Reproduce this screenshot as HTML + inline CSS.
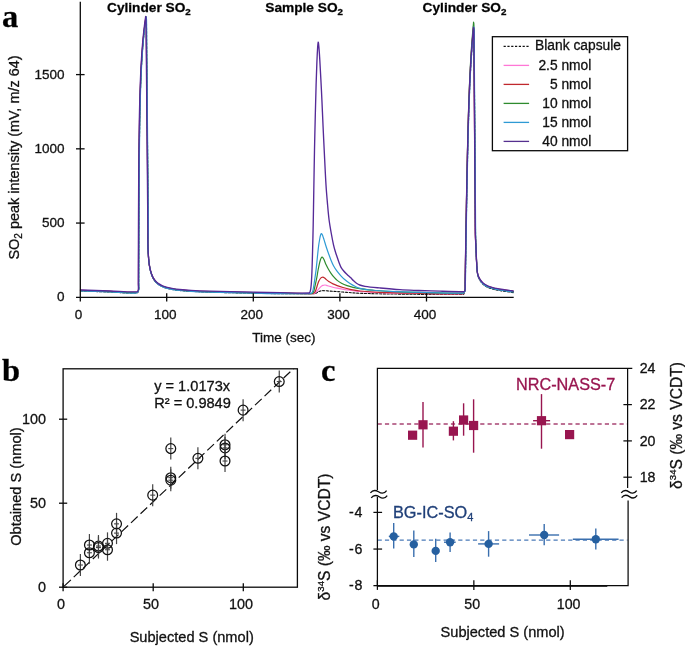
<!DOCTYPE html>
<html><head><meta charset="utf-8"><style>
html,body{margin:0;padding:0;background:#fff;width:685px;height:646px;overflow:hidden;}
body{position:relative;font-family:"Liberation Sans", sans-serif;}
svg{will-change:transform;}
svg text{stroke:#111;stroke-width:0.3px;}
</style></head><body>
<svg width="685" height="646" viewBox="0 0 685 646" style="position:absolute;left:0;top:0">
<text x="2" y="26.6" font-family='"Liberation Serif", serif' font-weight="bold" font-size="32.5">a</text>
<text x="107" y="12.1" font-family='"Liberation Sans", sans-serif' font-weight="bold" font-size="13.7">Cylinder SO<tspan font-size="9.8" dy="3.2">2</tspan></text>
<text x="265.3" y="12.1" font-family='"Liberation Sans", sans-serif' font-weight="bold" font-size="13.7">Sample SO<tspan font-size="9.8" dy="3.2">2</tspan></text>
<text x="422.6" y="12.1" font-family='"Liberation Sans", sans-serif' font-weight="bold" font-size="13.7">Cylinder SO<tspan font-size="9.8" dy="3.2">2</tspan></text>
<g fill="none" stroke-linejoin="round" stroke-linecap="round">
<path d="M80.50,291.00 C90.33,291.33 100.17,291.67 110.00,292.00 C119.00,292.30 128.50,293.49 137.00,292.90 C138.05,292.83 138.47,291.06 138.67,290.00 C139.04,288.10 138.68,286.00 138.69,284.00 C138.70,282.00 138.70,280.00 138.71,278.00 C138.71,276.00 138.72,274.00 138.73,272.00 C138.73,270.00 138.74,268.00 138.74,266.00 C138.75,264.00 138.76,262.00 138.76,260.00 C138.77,258.00 138.77,256.00 138.78,254.00 C138.79,252.00 138.79,250.00 138.80,248.00 C138.81,246.00 138.81,244.00 138.82,242.00 C138.83,240.00 138.83,238.00 138.84,236.00 C138.85,234.00 138.86,232.00 138.86,230.00 C138.87,228.00 138.88,226.00 138.89,224.00 C138.90,222.00 138.90,220.00 138.91,218.00 C138.92,216.00 138.93,214.00 138.94,212.00 C138.95,210.00 138.96,208.00 138.96,206.00 C138.97,204.00 138.98,202.00 138.99,200.00 C139.00,198.00 139.01,196.00 139.03,194.00 C139.04,192.00 139.05,190.00 139.06,188.00 C139.07,186.00 139.08,184.00 139.10,182.00 C139.11,180.00 139.12,178.00 139.14,176.00 C139.15,174.00 139.16,172.00 139.18,170.00 C139.19,168.00 139.21,166.00 139.23,164.00 C139.24,162.00 139.26,160.00 139.28,158.00 C139.30,156.00 139.31,154.00 139.33,152.00 C139.35,150.00 139.38,148.00 139.40,146.00 C139.42,144.00 139.44,142.00 139.47,140.00 C139.49,138.00 139.52,136.00 139.55,134.00 C139.57,132.00 139.60,130.00 139.63,128.00 C139.66,126.00 139.70,124.00 139.73,122.00 C139.77,120.00 139.80,118.00 139.84,116.00 C139.88,114.00 139.92,112.00 139.96,110.00 C140.01,108.00 140.05,106.00 140.10,104.00 C140.15,102.00 140.20,100.00 140.26,98.00 C140.31,96.00 140.37,94.00 140.43,92.00 C140.50,90.00 140.56,88.00 140.63,86.00 C140.70,84.00 140.78,82.00 140.86,80.00 C140.94,78.00 141.02,76.00 141.11,74.00 C141.21,72.00 141.30,70.00 141.40,68.00 C141.51,66.00 141.62,64.00 141.73,62.00 C141.85,60.00 141.97,58.00 142.11,56.00 C142.24,54.00 142.38,52.00 142.53,50.00 C142.69,48.00 142.85,46.00 143.02,44.00 C143.19,42.00 143.37,40.00 143.57,38.00 C143.77,36.00 143.97,34.00 144.20,32.00 C144.42,30.00 144.66,28.00 144.91,26.00 C145.17,24.00 145.57,21.20 145.73,20.00 C145.77,19.70 145.50,21.62 145.51,21.50 C145.54,21.29 145.75,19.83 145.87,19.00 C145.95,18.50 146.04,17.33 146.10,17.50 C146.22,17.83 146.40,19.49 146.43,20.50 C146.57,26.99 146.54,33.50 146.60,40.00 C146.72,53.33 146.83,66.67 146.95,80.00 C147.07,93.33 147.18,106.67 147.30,120.00 C147.42,133.33 147.54,146.67 147.65,160.00 C147.77,173.33 147.89,186.67 148.01,200.00 C148.09,210.00 148.29,220.00 148.27,230.00 C148.26,234.33 147.89,238.67 147.90,243.00 C147.90,246.67 148.09,250.34 148.30,254.00 C148.46,256.84 148.67,259.69 149.00,262.52 C149.24,264.61 149.58,266.70 150.00,268.76 C150.34,270.44 150.77,272.12 151.30,273.75 C151.77,275.20 152.31,276.66 153.00,278.02 C153.64,279.26 154.39,280.49 155.30,281.55 C156.23,282.64 157.34,283.62 158.50,284.46 C159.74,285.36 161.11,286.12 162.50,286.75 C164.01,287.43 165.60,287.97 167.20,288.40 C169.10,288.92 171.05,289.27 173.00,289.60 C175.15,289.97 177.32,290.28 179.50,290.50 C183.32,290.88 187.16,291.19 191.00,291.40 C197.33,291.75 203.66,291.99 210.00,292.20 C216.66,292.42 223.33,292.55 230.00,292.70 C237.80,292.88 245.60,293.04 253.40,293.20 C262.27,293.38 271.13,293.64 280.00,293.70 C289.67,293.77 299.33,293.63 309.00,293.60 C311.00,293.59 313.06,293.84 315.00,293.60 C315.72,293.51 316.34,292.95 317.00,292.60 C317.67,292.25 318.31,291.81 319.00,291.50 C319.57,291.24 320.19,291.07 320.80,290.90 C321.29,290.77 321.79,290.62 322.30,290.60 C323.19,290.56 324.10,290.64 325.00,290.70 C326.67,290.81 328.33,290.98 330.00,291.10 C332.40,291.28 334.80,291.42 337.20,291.60 C340.47,291.85 343.73,292.16 347.00,292.40 C351.33,292.72 355.66,293.16 360.00,293.30 C373.33,293.73 386.67,293.96 400.00,294.10 C421.17,294.32 442.60,294.76 463.50,294.40 C464.03,294.39 464.10,293.50 464.30,293.00 C464.68,292.03 465.12,291.03 465.24,290.00 C465.46,288.03 465.30,286.00 465.33,284.00 C465.36,282.00 465.40,280.00 465.43,278.00 C465.46,276.00 465.49,274.00 465.52,272.00 C465.55,270.00 465.59,268.00 465.62,266.00 C465.65,264.00 465.68,262.00 465.71,260.00 C465.75,258.00 465.78,256.00 465.81,254.00 C465.84,252.00 465.87,250.00 465.91,248.00 C465.94,246.00 465.97,244.00 466.01,242.00 C466.04,240.00 466.07,238.00 466.11,236.00 C466.14,234.00 466.17,232.00 466.21,230.00 C466.24,228.00 466.27,226.00 466.31,224.00 C466.34,222.00 466.38,220.00 466.41,218.00 C466.45,216.00 466.48,214.00 466.52,212.00 C466.55,210.00 466.59,208.00 466.62,206.00 C466.66,204.00 466.70,202.00 466.73,200.00 C466.77,198.00 466.81,196.00 466.85,194.00 C466.88,192.00 466.92,190.00 466.96,188.00 C467.00,186.00 467.04,184.00 467.08,182.00 C467.12,180.00 467.16,178.00 467.20,176.00 C467.24,174.00 467.28,172.00 467.32,170.00 C467.36,168.00 467.41,166.00 467.45,164.00 C467.49,162.00 467.54,160.00 467.58,158.00 C467.63,156.00 467.67,154.00 467.72,152.00 C467.77,150.00 467.82,148.00 467.86,146.00 C467.91,144.00 467.96,142.00 468.01,140.00 C468.07,138.00 468.12,136.00 468.17,134.00 C468.23,132.00 468.28,130.00 468.34,128.00 C468.39,126.00 468.45,124.00 468.51,122.00 C468.57,120.00 468.63,118.00 468.70,116.00 C468.76,114.00 468.83,112.00 468.89,110.00 C468.96,108.00 469.03,106.00 469.10,104.00 C469.18,102.00 469.25,100.00 469.33,98.00 C469.40,96.00 469.48,94.00 469.57,92.00 C469.65,90.00 469.73,88.00 469.82,86.00 C469.91,84.00 470.00,82.00 470.10,80.00 C470.20,78.00 470.30,76.00 470.40,74.00 C470.50,72.00 470.61,70.00 470.73,68.00 C470.84,66.00 470.96,64.00 471.08,62.00 C471.20,60.00 471.33,58.00 471.46,56.00 C471.60,54.00 471.74,52.00 471.88,50.00 C472.03,48.00 472.18,46.00 472.34,44.00 C472.50,42.00 472.67,40.00 472.85,38.00 C473.02,36.00 473.27,33.43 473.40,32.00 C473.42,31.76 473.29,33.14 473.31,33.00 C473.34,32.64 473.47,31.33 473.55,30.50 C473.60,30.00 473.65,28.83 473.70,29.00 C473.81,29.33 474.00,31.00 474.02,32.00 C474.15,38.00 474.11,44.00 474.16,50.00 C474.26,63.33 474.36,76.67 474.46,90.00 C474.56,103.33 474.66,116.67 474.76,130.00 C474.86,143.33 474.96,156.67 475.06,170.00 C475.16,183.33 475.26,196.67 475.36,210.00 C475.42,218.33 475.42,226.67 475.55,235.00 C475.60,238.67 475.76,242.33 475.90,246.00 C476.05,250.00 476.20,254.00 476.40,258.00 C476.60,262.17 476.73,266.36 477.10,270.51 C477.27,272.41 477.50,274.33 478.00,276.15 C478.36,277.45 479.02,278.70 479.70,279.88 C480.45,281.18 481.31,282.47 482.30,283.60 C483.01,284.42 483.91,285.10 484.80,285.73 C485.68,286.34 486.62,286.89 487.60,287.32 C489.02,287.95 490.51,288.45 492.00,288.90 C493.44,289.34 494.92,289.72 496.40,290.00 C499.28,290.55 502.20,290.95 505.10,291.40 C507.80,291.82 510.50,292.20 513.20,292.60" stroke="#111" stroke-width="1.1" stroke-dasharray="2.2,1.6"/>
<path d="M80.50,290.40 C90.33,290.73 100.17,291.07 110.00,291.40 C119.00,291.70 128.38,292.72 137.00,292.30 C137.87,292.26 138.32,290.87 138.47,290.00 C138.81,288.10 138.48,286.00 138.49,284.00 C138.49,282.00 138.50,280.00 138.51,278.00 C138.51,276.00 138.52,274.00 138.52,272.00 C138.53,270.00 138.54,268.00 138.54,266.00 C138.55,264.00 138.55,262.00 138.56,260.00 C138.57,258.00 138.57,256.00 138.58,254.00 C138.59,252.00 138.59,250.00 138.60,248.00 C138.61,246.00 138.61,244.00 138.62,242.00 C138.63,240.00 138.63,238.00 138.64,236.00 C138.65,234.00 138.65,232.00 138.66,230.00 C138.67,228.00 138.68,226.00 138.69,224.00 C138.69,222.00 138.70,220.00 138.71,218.00 C138.72,216.00 138.73,214.00 138.74,212.00 C138.74,210.00 138.75,208.00 138.76,206.00 C138.77,204.00 138.78,202.00 138.79,200.00 C138.80,198.00 138.81,196.00 138.82,194.00 C138.83,192.00 138.84,190.00 138.86,188.00 C138.87,186.00 138.88,184.00 138.89,182.00 C138.90,180.00 138.92,178.00 138.93,176.00 C138.95,174.00 138.96,172.00 138.97,170.00 C138.99,168.00 139.00,166.00 139.02,164.00 C139.04,162.00 139.05,160.00 139.07,158.00 C139.09,156.00 139.11,154.00 139.13,152.00 C139.15,150.00 139.17,148.00 139.19,146.00 C139.21,144.00 139.24,142.00 139.26,140.00 C139.29,138.00 139.31,136.00 139.34,134.00 C139.37,132.00 139.40,130.00 139.43,128.00 C139.46,126.00 139.49,124.00 139.52,122.00 C139.56,120.00 139.59,118.00 139.63,116.00 C139.67,114.00 139.71,112.00 139.75,110.00 C139.80,108.00 139.84,106.00 139.89,104.00 C139.94,102.00 139.99,100.00 140.04,98.00 C140.10,96.00 140.16,94.00 140.22,92.00 C140.28,90.00 140.35,88.00 140.42,86.00 C140.49,84.00 140.56,82.00 140.64,80.00 C140.72,78.00 140.80,76.00 140.89,74.00 C140.98,72.00 141.08,70.00 141.18,68.00 C141.28,66.00 141.39,64.00 141.50,62.00 C141.62,60.00 141.74,58.00 141.88,56.00 C142.01,54.00 142.15,52.00 142.30,50.00 C142.45,48.00 142.60,46.00 142.78,44.00 C142.95,42.00 143.13,40.00 143.32,38.00 C143.52,36.00 143.72,34.00 143.94,32.00 C144.16,30.00 144.40,28.00 144.65,26.00 C144.90,24.00 145.27,21.43 145.46,20.00 C145.49,19.76 145.29,21.14 145.31,21.00 C145.37,20.64 145.55,19.33 145.67,18.50 C145.75,18.00 145.84,16.83 145.90,17.00 C146.02,17.33 146.20,18.99 146.23,20.00 C146.37,26.66 146.34,33.33 146.40,40.00 C146.52,53.33 146.64,66.67 146.75,80.00 C146.87,93.33 146.99,106.67 147.11,120.00 C147.22,133.33 147.34,146.67 147.46,160.00 C147.58,173.33 147.69,186.67 147.81,200.00 C147.90,210.00 148.05,220.00 148.07,230.00 C148.08,234.33 147.86,238.67 147.90,243.00 C147.93,246.67 148.09,250.34 148.30,254.00 C148.46,256.84 148.67,259.68 149.00,262.51 C149.24,264.55 149.58,266.59 150.00,268.60 C150.34,270.25 150.77,271.89 151.30,273.48 C151.77,274.90 152.31,276.33 153.00,277.65 C153.64,278.87 154.40,280.07 155.30,281.10 C156.23,282.17 157.34,283.13 158.50,283.95 C159.74,284.82 161.11,285.56 162.50,286.18 C164.01,286.85 165.60,287.37 167.20,287.80 C169.10,288.31 171.05,288.67 173.00,289.00 C175.15,289.37 177.32,289.68 179.50,289.90 C183.32,290.28 187.16,290.59 191.00,290.80 C197.33,291.15 203.66,291.39 210.00,291.60 C216.66,291.82 223.33,291.95 230.00,292.10 C237.80,292.28 245.60,292.44 253.40,292.60 C262.27,292.78 271.13,292.94 280.00,293.10 C289.67,293.27 299.33,293.46 309.00,293.60 C310.67,293.62 312.41,293.86 314.00,293.60 C314.67,293.49 315.28,292.96 315.80,292.50 C316.45,291.93 316.94,291.17 317.50,290.50 C318.11,289.77 318.67,289.00 319.30,288.30 C319.90,287.64 320.51,286.97 321.20,286.40 C321.68,286.00 322.22,285.62 322.80,285.40 C323.42,285.16 324.13,285.02 324.80,285.00 C325.37,284.98 325.95,285.15 326.50,285.30 C327.18,285.48 327.83,285.79 328.50,286.00 C329.66,286.36 330.82,286.70 332.00,287.00 C333.72,287.44 335.46,287.85 337.20,288.20 C339.79,288.72 342.39,289.19 345.00,289.60 C347.32,289.96 349.67,290.20 352.00,290.50 C354.67,290.84 357.32,291.30 360.00,291.50 C366.65,292.00 373.33,292.39 380.00,292.60 C393.33,293.02 406.67,293.22 420.00,293.40 C434.50,293.59 449.40,294.21 463.50,293.70 C464.17,293.68 464.04,292.44 464.30,291.80 C464.55,291.20 464.96,290.64 465.02,290.00 C465.23,288.04 465.09,286.00 465.12,284.00 C465.15,282.00 465.18,280.00 465.21,278.00 C465.24,276.00 465.27,274.00 465.31,272.00 C465.34,270.00 465.37,268.00 465.40,266.00 C465.43,264.00 465.46,262.00 465.50,260.00 C465.53,258.00 465.56,256.00 465.59,254.00 C465.63,252.00 465.66,250.00 465.69,248.00 C465.72,246.00 465.76,244.00 465.79,242.00 C465.82,240.00 465.86,238.00 465.89,236.00 C465.92,234.00 465.96,232.00 465.99,230.00 C466.02,228.00 466.06,226.00 466.09,224.00 C466.13,222.00 466.16,220.00 466.19,218.00 C466.23,216.00 466.26,214.00 466.30,212.00 C466.34,210.00 466.37,208.00 466.41,206.00 C466.44,204.00 466.48,202.00 466.52,200.00 C466.55,198.00 466.59,196.00 466.63,194.00 C466.66,192.00 466.70,190.00 466.74,188.00 C466.78,186.00 466.82,184.00 466.86,182.00 C466.90,180.00 466.94,178.00 466.98,176.00 C467.02,174.00 467.06,172.00 467.10,170.00 C467.14,168.00 467.18,166.00 467.23,164.00 C467.27,162.00 467.32,160.00 467.36,158.00 C467.41,156.00 467.45,154.00 467.50,152.00 C467.54,150.00 467.59,148.00 467.64,146.00 C467.69,144.00 467.74,142.00 467.79,140.00 C467.84,138.00 467.89,136.00 467.95,134.00 C468.00,132.00 468.05,130.00 468.11,128.00 C468.17,126.00 468.22,124.00 468.28,122.00 C468.34,120.00 468.40,118.00 468.47,116.00 C468.53,114.00 468.59,112.00 468.66,110.00 C468.73,108.00 468.80,106.00 468.87,104.00 C468.94,102.00 469.01,100.00 469.09,98.00 C469.16,96.00 469.24,94.00 469.32,92.00 C469.41,90.00 469.49,88.00 469.58,86.00 C469.67,84.00 469.76,82.00 469.85,80.00 C469.95,78.00 470.05,76.00 470.15,74.00 C470.25,72.00 470.36,70.00 470.47,68.00 C470.58,66.00 470.70,64.00 470.82,62.00 C470.94,60.00 471.07,58.00 471.20,56.00 C471.33,54.00 471.47,52.00 471.61,50.00 C471.76,48.00 471.91,46.00 472.06,44.00 C472.22,42.00 472.39,40.00 472.56,38.00 C472.73,36.00 472.92,34.00 473.11,32.00 C473.11,32.00 473.11,32.00 473.11,32.00 C473.19,31.17 473.27,30.33 473.35,29.50 C473.40,29.00 473.45,27.83 473.50,28.00 C473.61,28.33 473.80,30.00 473.82,31.00 C473.96,37.33 473.92,43.67 473.97,50.00 C474.07,63.33 474.16,76.67 474.26,90.00 C474.37,103.33 474.46,116.67 474.56,130.00 C474.67,143.33 474.76,156.67 474.87,170.00 C474.97,183.33 475.06,196.67 475.17,210.00 C475.23,218.33 475.18,226.67 475.35,235.00 C475.43,238.67 475.73,242.33 475.90,246.00 C476.08,250.00 476.20,254.00 476.40,258.00 C476.60,262.04 476.73,266.10 477.10,270.13 C477.27,271.94 477.50,273.78 478.00,275.51 C478.36,276.76 479.02,277.95 479.70,279.07 C480.46,280.32 481.32,281.55 482.30,282.62 C483.02,283.41 483.91,284.06 484.80,284.66 C485.68,285.25 486.62,285.77 487.60,286.18 C489.02,286.78 490.51,287.26 492.00,287.70 C493.45,288.13 494.92,288.52 496.40,288.80 C499.28,289.35 502.20,289.75 505.10,290.20 C507.80,290.62 510.50,291.00 513.20,291.40" stroke="#ff77d6" stroke-width="1.2"/>
<path d="M80.50,290.40 C90.33,290.73 100.17,291.07 110.00,291.40 C119.00,291.70 128.38,292.72 137.00,292.30 C137.87,292.26 138.32,290.87 138.47,290.00 C138.81,288.10 138.48,286.00 138.49,284.00 C138.49,282.00 138.50,280.00 138.51,278.00 C138.51,276.00 138.52,274.00 138.52,272.00 C138.53,270.00 138.54,268.00 138.54,266.00 C138.55,264.00 138.55,262.00 138.56,260.00 C138.57,258.00 138.57,256.00 138.58,254.00 C138.59,252.00 138.59,250.00 138.60,248.00 C138.61,246.00 138.61,244.00 138.62,242.00 C138.63,240.00 138.63,238.00 138.64,236.00 C138.65,234.00 138.65,232.00 138.66,230.00 C138.67,228.00 138.68,226.00 138.69,224.00 C138.69,222.00 138.70,220.00 138.71,218.00 C138.72,216.00 138.73,214.00 138.74,212.00 C138.74,210.00 138.75,208.00 138.76,206.00 C138.77,204.00 138.78,202.00 138.79,200.00 C138.80,198.00 138.81,196.00 138.82,194.00 C138.83,192.00 138.84,190.00 138.86,188.00 C138.87,186.00 138.88,184.00 138.89,182.00 C138.90,180.00 138.92,178.00 138.93,176.00 C138.95,174.00 138.96,172.00 138.97,170.00 C138.99,168.00 139.00,166.00 139.02,164.00 C139.04,162.00 139.05,160.00 139.07,158.00 C139.09,156.00 139.11,154.00 139.13,152.00 C139.15,150.00 139.17,148.00 139.19,146.00 C139.21,144.00 139.24,142.00 139.26,140.00 C139.29,138.00 139.31,136.00 139.34,134.00 C139.37,132.00 139.40,130.00 139.43,128.00 C139.46,126.00 139.49,124.00 139.52,122.00 C139.56,120.00 139.59,118.00 139.63,116.00 C139.67,114.00 139.71,112.00 139.75,110.00 C139.80,108.00 139.84,106.00 139.89,104.00 C139.94,102.00 139.99,100.00 140.04,98.00 C140.10,96.00 140.16,94.00 140.22,92.00 C140.28,90.00 140.35,88.00 140.42,86.00 C140.49,84.00 140.56,82.00 140.64,80.00 C140.72,78.00 140.80,76.00 140.89,74.00 C140.98,72.00 141.08,70.00 141.18,68.00 C141.28,66.00 141.39,64.00 141.50,62.00 C141.62,60.00 141.74,58.00 141.88,56.00 C142.01,54.00 142.15,52.00 142.30,50.00 C142.45,48.00 142.60,46.00 142.78,44.00 C142.95,42.00 143.13,40.00 143.32,38.00 C143.52,36.00 143.72,34.00 143.94,32.00 C144.16,30.00 144.40,28.00 144.65,26.00 C144.90,24.00 145.27,21.43 145.46,20.00 C145.49,19.76 145.29,21.14 145.31,21.00 C145.37,20.64 145.55,19.33 145.67,18.50 C145.75,18.00 145.84,16.83 145.90,17.00 C146.02,17.33 146.20,18.99 146.23,20.00 C146.37,26.66 146.34,33.33 146.40,40.00 C146.52,53.33 146.64,66.67 146.75,80.00 C146.87,93.33 146.99,106.67 147.11,120.00 C147.22,133.33 147.34,146.67 147.46,160.00 C147.58,173.33 147.69,186.67 147.81,200.00 C147.90,210.00 148.05,220.00 148.07,230.00 C148.08,234.33 147.86,238.67 147.90,243.00 C147.93,246.67 148.09,250.34 148.30,254.00 C148.46,256.84 148.67,259.68 149.00,262.51 C149.24,264.55 149.58,266.59 150.00,268.60 C150.34,270.25 150.77,271.89 151.30,273.48 C151.77,274.90 152.31,276.33 153.00,277.65 C153.64,278.87 154.40,280.07 155.30,281.10 C156.23,282.17 157.34,283.13 158.50,283.95 C159.74,284.82 161.11,285.56 162.50,286.18 C164.01,286.85 165.60,287.37 167.20,287.80 C169.10,288.31 171.05,288.67 173.00,289.00 C175.15,289.37 177.32,289.68 179.50,289.90 C183.32,290.28 187.16,290.59 191.00,290.80 C197.33,291.15 203.66,291.39 210.00,291.60 C216.66,291.82 223.33,291.95 230.00,292.10 C237.80,292.28 245.60,292.44 253.40,292.60 C262.27,292.78 271.13,292.94 280.00,293.10 C289.67,293.27 299.33,293.48 309.00,293.60 C310.33,293.62 311.73,293.75 313.00,293.50 C313.60,293.38 314.25,292.99 314.60,292.50 C315.32,291.49 315.75,290.20 316.20,289.00 C316.75,287.53 317.09,285.99 317.60,284.50 C318.03,283.25 318.44,281.99 319.00,280.80 C319.38,279.99 319.85,279.20 320.40,278.50 C320.72,278.10 321.15,277.73 321.60,277.50 C321.98,277.30 322.48,277.17 322.90,277.20 C323.34,277.23 323.82,277.45 324.20,277.70 C324.75,278.05 325.20,278.57 325.70,279.00 C326.33,279.54 326.95,280.09 327.60,280.60 C328.28,281.13 328.97,281.65 329.70,282.10 C330.77,282.75 331.87,283.37 333.00,283.90 C334.37,284.54 335.78,285.09 337.20,285.60 C339.11,286.29 341.05,286.94 343.00,287.50 C345.31,288.17 347.64,288.81 350.00,289.30 C353.31,289.98 356.64,290.65 360.00,291.00 C366.64,291.69 373.32,292.14 380.00,292.40 C393.32,292.91 406.67,293.09 420.00,293.30 C434.50,293.53 449.40,294.18 463.50,293.70 C464.17,293.68 464.04,292.44 464.30,291.80 C464.54,291.20 464.95,290.63 465.02,290.00 C465.22,288.03 465.08,286.00 465.11,284.00 C465.14,282.00 465.17,280.00 465.20,278.00 C465.23,276.00 465.27,274.00 465.30,272.00 C465.33,270.00 465.36,268.00 465.39,266.00 C465.42,264.00 465.46,262.00 465.49,260.00 C465.52,258.00 465.55,256.00 465.59,254.00 C465.62,252.00 465.65,250.00 465.68,248.00 C465.72,246.00 465.75,244.00 465.78,242.00 C465.81,240.00 465.85,238.00 465.88,236.00 C465.91,234.00 465.95,232.00 465.98,230.00 C466.01,228.00 466.05,226.00 466.08,224.00 C466.12,222.00 466.15,220.00 466.19,218.00 C466.22,216.00 466.26,214.00 466.29,212.00 C466.33,210.00 466.36,208.00 466.40,206.00 C466.43,204.00 466.47,202.00 466.51,200.00 C466.54,198.00 466.58,196.00 466.62,194.00 C466.65,192.00 466.69,190.00 466.73,188.00 C466.77,186.00 466.81,184.00 466.85,182.00 C466.89,180.00 466.93,178.00 466.97,176.00 C467.01,174.00 467.05,172.00 467.09,170.00 C467.13,168.00 467.17,166.00 467.22,164.00 C467.26,162.00 467.30,160.00 467.35,158.00 C467.39,156.00 467.44,154.00 467.49,152.00 C467.53,150.00 467.58,148.00 467.63,146.00 C467.68,144.00 467.73,142.00 467.78,140.00 C467.83,138.00 467.88,136.00 467.93,134.00 C467.99,132.00 468.04,130.00 468.10,128.00 C468.15,126.00 468.21,124.00 468.27,122.00 C468.33,120.00 468.39,118.00 468.45,116.00 C468.51,114.00 468.58,112.00 468.64,110.00 C468.71,108.00 468.78,106.00 468.85,104.00 C468.92,102.00 468.99,100.00 469.07,98.00 C469.14,96.00 469.22,94.00 469.30,92.00 C469.39,90.00 469.47,88.00 469.56,86.00 C469.64,84.00 469.73,82.00 469.83,80.00 C469.92,78.00 470.02,76.00 470.12,74.00 C470.23,72.00 470.33,70.00 470.44,68.00 C470.55,66.00 470.67,64.00 470.79,62.00 C470.91,60.00 471.03,58.00 471.16,56.00 C471.30,54.00 471.43,52.00 471.58,50.00 C471.72,48.00 471.87,46.00 472.03,44.00 C472.18,42.00 472.35,40.00 472.52,38.00 C472.69,36.00 472.88,34.00 473.06,32.00 C473.07,31.83 473.09,31.67 473.11,31.50 C473.19,30.67 473.27,29.83 473.35,29.00 C473.40,28.50 473.45,27.33 473.50,27.50 C473.61,27.83 473.80,29.50 473.82,30.50 C473.96,37.00 473.92,43.50 473.97,50.00 C474.07,63.33 474.17,76.67 474.27,90.00 C474.37,103.33 474.47,116.67 474.57,130.00 C474.67,143.33 474.77,156.67 474.87,170.00 C474.97,183.33 475.07,196.67 475.17,210.00 C475.23,218.33 475.19,226.67 475.36,235.00 C475.43,238.67 475.73,242.33 475.90,246.00 C476.08,250.00 476.20,254.00 476.40,258.00 C476.60,262.04 476.73,266.10 477.10,270.13 C477.27,271.94 477.50,273.78 478.00,275.51 C478.36,276.76 479.02,277.95 479.70,279.07 C480.46,280.32 481.32,281.55 482.30,282.62 C483.02,283.41 483.91,284.06 484.80,284.66 C485.68,285.25 486.62,285.77 487.60,286.18 C489.02,286.78 490.51,287.26 492.00,287.70 C493.45,288.13 494.92,288.52 496.40,288.80 C499.28,289.35 502.20,289.75 505.10,290.20 C507.80,290.62 510.50,291.00 513.20,291.40" stroke="#c0282d" stroke-width="1.2"/>
<path d="M80.50,290.60 C90.33,290.93 100.17,291.27 110.00,291.60 C119.00,291.90 128.41,292.98 137.00,292.50 C137.94,292.45 138.40,290.93 138.57,290.00 C138.93,288.10 138.58,286.00 138.59,284.00 C138.59,282.00 138.60,280.00 138.61,278.00 C138.61,276.00 138.62,274.00 138.62,272.00 C138.63,270.00 138.64,268.00 138.64,266.00 C138.65,264.00 138.65,262.00 138.66,260.00 C138.67,258.00 138.67,256.00 138.68,254.00 C138.69,252.00 138.69,250.00 138.70,248.00 C138.71,246.00 138.71,244.00 138.72,242.00 C138.73,240.00 138.73,238.00 138.74,236.00 C138.75,234.00 138.75,232.00 138.76,230.00 C138.77,228.00 138.78,226.00 138.79,224.00 C138.79,222.00 138.80,220.00 138.81,218.00 C138.82,216.00 138.83,214.00 138.84,212.00 C138.84,210.00 138.85,208.00 138.86,206.00 C138.87,204.00 138.88,202.00 138.89,200.00 C138.90,198.00 138.91,196.00 138.92,194.00 C138.93,192.00 138.94,190.00 138.96,188.00 C138.97,186.00 138.98,184.00 138.99,182.00 C139.00,180.00 139.02,178.00 139.03,176.00 C139.05,174.00 139.06,172.00 139.07,170.00 C139.09,168.00 139.10,166.00 139.12,164.00 C139.14,162.00 139.15,160.00 139.17,158.00 C139.19,156.00 139.21,154.00 139.23,152.00 C139.25,150.00 139.27,148.00 139.29,146.00 C139.31,144.00 139.34,142.00 139.36,140.00 C139.39,138.00 139.41,136.00 139.44,134.00 C139.47,132.00 139.50,130.00 139.53,128.00 C139.56,126.00 139.59,124.00 139.62,122.00 C139.66,120.00 139.69,118.00 139.73,116.00 C139.77,114.00 139.81,112.00 139.85,110.00 C139.90,108.00 139.94,106.00 139.99,104.00 C140.04,102.00 140.09,100.00 140.14,98.00 C140.20,96.00 140.26,94.00 140.32,92.00 C140.38,90.00 140.45,88.00 140.52,86.00 C140.59,84.00 140.66,82.00 140.74,80.00 C140.82,78.00 140.90,76.00 140.99,74.00 C141.08,72.00 141.18,70.00 141.28,68.00 C141.38,66.00 141.49,64.00 141.60,62.00 C141.72,60.00 141.84,58.00 141.98,56.00 C142.11,54.00 142.25,52.00 142.40,50.00 C142.55,48.00 142.70,46.00 142.88,44.00 C143.05,42.00 143.23,40.00 143.42,38.00 C143.62,36.00 143.82,34.00 144.04,32.00 C144.26,30.00 144.50,28.00 144.75,26.00 C145.00,24.00 145.37,21.43 145.56,20.00 C145.59,19.76 145.39,21.14 145.41,21.00 C145.47,20.64 145.65,19.33 145.77,18.50 C145.85,18.00 145.94,16.83 146.00,17.00 C146.12,17.33 146.30,18.99 146.33,20.00 C146.47,26.66 146.44,33.33 146.50,40.00 C146.62,53.33 146.74,66.67 146.85,80.00 C146.97,93.33 147.09,106.67 147.21,120.00 C147.32,133.33 147.44,146.67 147.56,160.00 C147.68,173.33 147.79,186.67 147.91,200.00 C148.00,210.00 148.18,220.00 148.17,230.00 C148.17,234.33 147.88,238.67 147.90,243.00 C147.92,246.67 148.09,250.34 148.30,254.00 C148.46,256.84 148.67,259.69 149.00,262.51 C149.24,264.57 149.58,266.63 150.00,268.66 C150.34,270.31 150.77,271.96 151.30,273.57 C151.77,275.00 152.31,276.44 153.00,277.77 C153.64,279.00 154.40,280.21 155.30,281.25 C156.23,282.32 157.34,283.29 158.50,284.12 C159.74,285.00 161.11,285.75 162.50,286.37 C164.01,287.04 165.60,287.57 167.20,288.00 C169.10,288.51 171.05,288.87 173.00,289.20 C175.15,289.57 177.32,289.88 179.50,290.10 C183.32,290.48 187.16,290.79 191.00,291.00 C197.33,291.35 203.66,291.59 210.00,291.80 C216.66,292.02 223.33,292.15 230.00,292.30 C237.80,292.48 245.60,292.64 253.40,292.80 C262.27,292.98 271.13,293.17 280.00,293.30 C289.67,293.44 299.34,293.57 309.00,293.60 C310.00,293.60 311.11,293.72 312.00,293.40 C312.61,293.18 313.25,292.61 313.50,292.00 C314.25,290.15 314.53,288.01 315.00,286.00 C315.60,283.41 316.19,280.81 316.70,278.20 C317.19,275.65 317.53,273.06 318.00,270.50 C318.36,268.53 318.76,266.56 319.20,264.60 C319.53,263.12 319.86,261.64 320.30,260.20 C320.53,259.44 320.80,258.66 321.20,258.00 C321.40,257.66 321.78,257.24 322.10,257.20 C322.38,257.17 322.79,257.52 323.00,257.80 C323.49,258.45 323.86,259.24 324.20,260.00 C324.86,261.50 325.32,263.10 326.00,264.60 C326.69,266.10 327.48,267.57 328.30,269.00 C329.14,270.47 330.04,271.91 331.00,273.30 C331.94,274.65 332.92,275.97 334.00,277.20 C334.99,278.33 336.03,279.46 337.20,280.40 C338.53,281.46 339.99,282.41 341.50,283.20 C343.29,284.14 345.19,284.92 347.10,285.60 C349.02,286.29 351.01,286.82 353.00,287.30 C355.31,287.86 357.65,288.36 360.00,288.70 C364.98,289.42 369.98,290.11 375.00,290.50 C383.32,291.14 391.66,291.48 400.00,291.80 C410.00,292.18 420.00,292.38 430.00,292.60 C441.17,292.85 452.54,293.39 463.50,293.20 C463.97,293.19 464.09,292.43 464.30,292.00 C464.60,291.36 464.96,290.70 465.03,290.00 C465.24,288.03 465.10,286.00 465.13,284.00 C465.16,282.00 465.19,280.00 465.22,278.00 C465.25,276.00 465.28,274.00 465.31,272.00 C465.35,270.00 465.38,268.00 465.41,266.00 C465.44,264.00 465.47,262.00 465.50,260.00 C465.54,258.00 465.57,256.00 465.60,254.00 C465.63,252.00 465.66,250.00 465.70,248.00 C465.73,246.00 465.76,244.00 465.79,242.00 C465.83,240.00 465.86,238.00 465.89,236.00 C465.93,234.00 465.96,232.00 465.99,230.00 C466.03,228.00 466.06,226.00 466.09,224.00 C466.13,222.00 466.16,220.00 466.19,218.00 C466.23,216.00 466.26,214.00 466.30,212.00 C466.33,210.00 466.37,208.00 466.40,206.00 C466.44,204.00 466.47,202.00 466.51,200.00 C466.55,198.00 466.58,196.00 466.62,194.00 C466.66,192.00 466.69,190.00 466.73,188.00 C466.77,186.00 466.81,184.00 466.84,182.00 C466.88,180.00 466.92,178.00 466.96,176.00 C467.00,174.00 467.04,172.00 467.08,170.00 C467.12,168.00 467.16,166.00 467.20,164.00 C467.25,162.00 467.29,160.00 467.33,158.00 C467.38,156.00 467.42,154.00 467.46,152.00 C467.51,150.00 467.56,148.00 467.60,146.00 C467.65,144.00 467.70,142.00 467.74,140.00 C467.79,138.00 467.84,136.00 467.89,134.00 C467.95,132.00 468.00,130.00 468.05,128.00 C468.10,126.00 468.16,124.00 468.22,122.00 C468.27,120.00 468.33,118.00 468.39,116.00 C468.45,114.00 468.51,112.00 468.57,110.00 C468.64,108.00 468.70,106.00 468.77,104.00 C468.83,102.00 468.90,100.00 468.97,98.00 C469.05,96.00 469.12,94.00 469.20,92.00 C469.27,90.00 469.35,88.00 469.43,86.00 C469.51,84.00 469.60,82.00 469.69,80.00 C469.78,78.00 469.87,76.00 469.96,74.00 C470.06,72.00 470.16,70.00 470.26,68.00 C470.36,66.00 470.47,64.00 470.58,62.00 C470.69,60.00 470.81,58.00 470.93,56.00 C471.05,54.00 471.18,52.00 471.31,50.00 C471.44,48.00 471.58,46.00 471.73,44.00 C471.87,42.00 472.02,40.00 472.18,38.00 C472.34,36.00 472.50,34.00 472.68,32.00 C472.85,30.00 473.06,27.87 473.23,26.00 C473.23,25.94 473.20,26.26 473.21,26.20 C473.28,25.49 473.37,24.53 473.45,23.70 C473.50,23.20 473.55,22.03 473.60,22.20 C473.71,22.53 473.90,24.19 473.92,25.20 C474.07,33.46 474.05,41.73 474.11,50.00 C474.21,63.33 474.31,76.67 474.41,90.00 C474.51,103.33 474.61,116.67 474.71,130.00 C474.81,143.33 474.91,156.67 475.01,170.00 C475.11,183.33 475.21,196.67 475.31,210.00 C475.37,218.33 475.36,226.67 475.50,235.00 C475.56,238.67 475.76,242.33 475.90,246.00 C476.06,250.00 476.20,254.00 476.40,258.00 C476.60,262.07 476.73,266.14 477.10,270.19 C477.27,272.02 477.50,273.87 478.00,275.62 C478.36,276.88 479.02,278.07 479.70,279.20 C480.46,280.46 481.32,281.70 482.30,282.79 C483.02,283.58 483.91,284.23 484.80,284.84 C485.68,285.43 486.62,285.96 487.60,286.37 C489.02,286.98 490.51,287.46 492.00,287.90 C493.45,288.33 494.92,288.72 496.40,289.00 C499.28,289.55 502.20,289.95 505.10,290.40 C507.80,290.82 510.50,291.20 513.20,291.60" stroke="#2e8b2e" stroke-width="1.2"/>
<path d="M80.50,291.00 C90.33,291.33 100.17,291.67 110.00,292.00 C119.00,292.30 128.48,293.49 137.00,292.90 C138.07,292.83 138.56,291.07 138.77,290.00 C139.15,288.11 138.78,286.00 138.79,284.00 C138.79,282.00 138.80,280.00 138.81,278.00 C138.81,276.00 138.82,274.00 138.82,272.00 C138.83,270.00 138.84,268.00 138.84,266.00 C138.85,264.00 138.85,262.00 138.86,260.00 C138.87,258.00 138.87,256.00 138.88,254.00 C138.89,252.00 138.89,250.00 138.90,248.00 C138.91,246.00 138.91,244.00 138.92,242.00 C138.93,240.00 138.93,238.00 138.94,236.00 C138.95,234.00 138.95,232.00 138.96,230.00 C138.97,228.00 138.98,226.00 138.99,224.00 C138.99,222.00 139.00,220.00 139.01,218.00 C139.02,216.00 139.03,214.00 139.04,212.00 C139.04,210.00 139.05,208.00 139.06,206.00 C139.07,204.00 139.08,202.00 139.09,200.00 C139.10,198.00 139.11,196.00 139.12,194.00 C139.13,192.00 139.14,190.00 139.16,188.00 C139.17,186.00 139.18,184.00 139.19,182.00 C139.20,180.00 139.22,178.00 139.23,176.00 C139.25,174.00 139.26,172.00 139.27,170.00 C139.29,168.00 139.30,166.00 139.32,164.00 C139.34,162.00 139.35,160.00 139.37,158.00 C139.39,156.00 139.41,154.00 139.43,152.00 C139.45,150.00 139.47,148.00 139.49,146.00 C139.51,144.00 139.54,142.00 139.56,140.00 C139.59,138.00 139.61,136.00 139.64,134.00 C139.67,132.00 139.70,130.00 139.73,128.00 C139.76,126.00 139.79,124.00 139.82,122.00 C139.86,120.00 139.89,118.00 139.93,116.00 C139.97,114.00 140.01,112.00 140.05,110.00 C140.10,108.00 140.14,106.00 140.19,104.00 C140.24,102.00 140.29,100.00 140.34,98.00 C140.40,96.00 140.46,94.00 140.52,92.00 C140.58,90.00 140.65,88.00 140.72,86.00 C140.79,84.00 140.86,82.00 140.94,80.00 C141.02,78.00 141.10,76.00 141.19,74.00 C141.28,72.00 141.38,70.00 141.48,68.00 C141.58,66.00 141.69,64.00 141.80,62.00 C141.92,60.00 142.04,58.00 142.18,56.00 C142.31,54.00 142.45,52.00 142.60,50.00 C142.75,48.00 142.90,46.00 143.08,44.00 C143.25,42.00 143.43,40.00 143.62,38.00 C143.82,36.00 144.02,34.00 144.24,32.00 C144.46,30.00 144.70,28.00 144.95,26.00 C145.20,24.00 145.57,21.43 145.76,20.00 C145.79,19.76 145.59,21.14 145.61,21.00 C145.67,20.64 145.85,19.33 145.97,18.50 C146.05,18.00 146.14,16.83 146.20,17.00 C146.32,17.33 146.50,18.99 146.53,20.00 C146.67,26.66 146.64,33.33 146.70,40.00 C146.82,53.33 146.94,66.67 147.05,80.00 C147.17,93.33 147.29,106.67 147.41,120.00 C147.52,133.33 147.64,146.67 147.76,160.00 C147.88,173.33 147.99,186.67 148.11,200.00 C148.20,210.00 148.42,220.00 148.37,230.00 C148.35,234.34 147.91,238.67 147.90,243.00 C147.89,246.67 148.09,250.34 148.30,254.00 C148.46,256.84 148.67,259.69 149.00,262.52 C149.24,264.61 149.58,266.70 150.00,268.76 C150.34,270.44 150.77,272.12 151.30,273.75 C151.77,275.20 152.31,276.66 153.00,278.02 C153.64,279.26 154.39,280.49 155.30,281.55 C156.23,282.64 157.34,283.62 158.50,284.46 C159.74,285.36 161.11,286.12 162.50,286.75 C164.01,287.43 165.60,287.97 167.20,288.40 C169.10,288.92 171.05,289.27 173.00,289.60 C175.15,289.97 177.32,290.28 179.50,290.50 C183.32,290.88 187.16,291.19 191.00,291.40 C197.33,291.75 203.66,291.99 210.00,292.20 C216.66,292.42 223.33,292.55 230.00,292.70 C237.80,292.88 245.60,293.04 253.40,293.20 C262.27,293.38 271.13,293.64 280.00,293.70 C289.67,293.77 299.34,293.75 309.00,293.60 C309.84,293.59 310.83,293.59 311.50,293.20 C312.03,292.89 312.39,292.13 312.60,291.50 C313.09,290.03 313.33,288.44 313.60,286.90 C314.06,284.28 314.42,281.64 314.80,279.00 C315.25,275.87 315.73,272.74 316.10,269.60 C316.60,265.41 316.96,261.20 317.40,257.00 C317.79,253.33 318.13,249.66 318.60,246.00 C318.93,243.49 319.35,240.99 319.80,238.50 C320.01,237.32 320.25,236.14 320.60,235.00 C320.75,234.50 321.01,233.67 321.30,233.60 C321.55,233.54 322.00,234.21 322.20,234.60 C322.66,235.51 322.97,236.52 323.30,237.50 C323.84,239.09 324.30,240.70 324.80,242.30 C325.40,244.20 325.98,246.11 326.60,248.00 C327.21,249.84 327.84,251.68 328.50,253.50 C329.31,255.74 330.10,257.99 331.00,260.20 C331.77,262.09 332.52,264.01 333.50,265.80 C334.52,267.68 335.73,269.48 337.00,271.20 C338.19,272.81 339.53,274.33 340.90,275.80 C342.20,277.20 343.55,278.57 345.00,279.80 C346.45,281.03 348.00,282.16 349.60,283.20 C351.34,284.33 353.15,285.37 355.00,286.30 C356.61,287.11 358.26,287.97 360.00,288.40 C363.26,289.20 366.64,289.66 370.00,290.00 C376.64,290.66 383.33,291.08 390.00,291.40 C399.99,291.88 410.00,292.16 420.00,292.40 C434.50,292.76 449.11,293.20 463.50,293.20 C463.87,293.20 464.12,292.72 464.30,292.40 C464.72,291.66 465.20,290.85 465.31,290.00 C465.56,288.05 465.37,286.00 465.40,284.00 C465.43,282.00 465.46,280.00 465.50,278.00 C465.53,276.00 465.56,274.00 465.59,272.00 C465.62,270.00 465.65,268.00 465.69,266.00 C465.72,264.00 465.75,262.00 465.78,260.00 C465.81,258.00 465.85,256.00 465.88,254.00 C465.91,252.00 465.94,250.00 465.97,248.00 C466.01,246.00 466.04,244.00 466.07,242.00 C466.11,240.00 466.14,238.00 466.17,236.00 C466.21,234.00 466.24,232.00 466.27,230.00 C466.31,228.00 466.34,226.00 466.37,224.00 C466.41,222.00 466.44,220.00 466.48,218.00 C466.51,216.00 466.55,214.00 466.58,212.00 C466.62,210.00 466.65,208.00 466.69,206.00 C466.72,204.00 466.76,202.00 466.80,200.00 C466.83,198.00 466.87,196.00 466.91,194.00 C466.95,192.00 466.98,190.00 467.02,188.00 C467.06,186.00 467.10,184.00 467.14,182.00 C467.18,180.00 467.22,178.00 467.26,176.00 C467.30,174.00 467.34,172.00 467.38,170.00 C467.42,168.00 467.46,166.00 467.51,164.00 C467.55,162.00 467.59,160.00 467.64,158.00 C467.68,156.00 467.73,154.00 467.77,152.00 C467.82,150.00 467.87,148.00 467.92,146.00 C467.96,144.00 468.01,142.00 468.06,140.00 C468.11,138.00 468.17,136.00 468.22,134.00 C468.27,132.00 468.33,130.00 468.38,128.00 C468.44,126.00 468.49,124.00 468.55,122.00 C468.61,120.00 468.67,118.00 468.73,116.00 C468.80,114.00 468.86,112.00 468.93,110.00 C468.99,108.00 469.06,106.00 469.13,104.00 C469.20,102.00 469.27,100.00 469.35,98.00 C469.43,96.00 469.50,94.00 469.58,92.00 C469.66,90.00 469.75,88.00 469.84,86.00 C469.92,84.00 470.01,82.00 470.11,80.00 C470.20,78.00 470.30,76.00 470.40,74.00 C470.50,72.00 470.60,70.00 470.71,68.00 C470.82,66.00 470.94,64.00 471.06,62.00 C471.18,60.00 471.30,58.00 471.43,56.00 C471.56,54.00 471.70,52.00 471.84,50.00 C471.98,48.00 472.13,46.00 472.29,44.00 C472.44,42.00 472.60,40.00 472.78,38.00 C472.95,36.00 473.13,34.00 473.31,32.00 C473.34,31.67 473.37,31.33 473.41,31.00 C473.49,30.17 473.57,29.33 473.65,28.50 C473.70,28.00 473.75,26.83 473.80,27.00 C473.91,27.33 474.10,29.00 474.12,30.00 C474.26,36.66 474.22,43.33 474.27,50.00 C474.37,63.33 474.47,76.67 474.57,90.00 C474.67,103.33 474.77,116.67 474.87,130.00 C474.97,143.33 475.07,156.67 475.17,170.00 C475.27,183.33 475.37,196.67 475.47,210.00 C475.54,218.33 475.56,226.67 475.66,235.00 C475.70,238.67 475.78,242.33 475.90,246.00 C476.03,250.00 476.20,254.00 476.40,258.00 C476.60,262.11 476.73,266.23 477.10,270.32 C477.27,272.17 477.50,274.06 478.00,275.83 C478.36,277.11 479.02,278.32 479.70,279.47 C480.46,280.75 481.32,282.01 482.30,283.11 C483.02,283.91 483.91,284.58 484.80,285.19 C485.68,285.79 486.62,286.33 487.60,286.75 C489.02,287.37 490.51,287.85 492.00,288.30 C493.45,288.74 494.92,289.12 496.40,289.40 C499.28,289.95 502.20,290.35 505.10,290.80 C507.80,291.22 510.50,291.60 513.20,292.00" stroke="#2e9ad4" stroke-width="1.2"/>
<path d="M80.50,290.00 C90.33,290.33 100.17,290.67 110.00,291.00 C119.00,291.30 128.31,292.21 137.00,291.90 C137.74,291.87 138.15,290.73 138.27,290.00 C138.58,288.09 138.28,286.00 138.29,284.00 C138.29,282.00 138.30,280.00 138.30,278.00 C138.31,276.00 138.32,274.00 138.32,272.00 C138.33,270.00 138.33,268.00 138.34,266.00 C138.35,264.00 138.35,262.00 138.36,260.00 C138.36,258.00 138.37,256.00 138.38,254.00 C138.38,252.00 138.39,250.00 138.40,248.00 C138.40,246.00 138.41,244.00 138.42,242.00 C138.42,240.00 138.43,238.00 138.44,236.00 C138.45,234.00 138.45,232.00 138.46,230.00 C138.47,228.00 138.48,226.00 138.48,224.00 C138.49,222.00 138.50,220.00 138.51,218.00 C138.52,216.00 138.52,214.00 138.53,212.00 C138.54,210.00 138.55,208.00 138.56,206.00 C138.57,204.00 138.58,202.00 138.59,200.00 C138.60,198.00 138.61,196.00 138.62,194.00 C138.63,192.00 138.64,190.00 138.65,188.00 C138.66,186.00 138.68,184.00 138.69,182.00 C138.70,180.00 138.71,178.00 138.73,176.00 C138.74,174.00 138.76,172.00 138.77,170.00 C138.79,168.00 138.80,166.00 138.82,164.00 C138.83,162.00 138.85,160.00 138.87,158.00 C138.89,156.00 138.90,154.00 138.92,152.00 C138.94,150.00 138.96,148.00 138.99,146.00 C139.01,144.00 139.03,142.00 139.06,140.00 C139.08,138.00 139.11,136.00 139.13,134.00 C139.16,132.00 139.19,130.00 139.22,128.00 C139.25,126.00 139.28,124.00 139.31,122.00 C139.35,120.00 139.38,118.00 139.42,116.00 C139.46,114.00 139.50,112.00 139.54,110.00 C139.58,108.00 139.63,106.00 139.68,104.00 C139.73,102.00 139.78,100.00 139.83,98.00 C139.88,96.00 139.94,94.00 140.00,92.00 C140.06,90.00 140.13,88.00 140.20,86.00 C140.27,84.00 140.34,82.00 140.42,80.00 C140.50,78.00 140.58,76.00 140.67,74.00 C140.76,72.00 140.85,70.00 140.95,68.00 C141.05,66.00 141.16,64.00 141.28,62.00 C141.39,60.00 141.51,58.00 141.64,56.00 C141.77,54.00 141.91,52.00 142.06,50.00 C142.21,48.00 142.36,46.00 142.53,44.00 C142.70,42.00 142.88,40.00 143.07,38.00 C143.26,36.00 143.47,34.00 143.69,32.00 C143.91,30.00 144.14,28.00 144.39,26.00 C144.64,24.00 144.96,21.69 145.18,20.00 C145.20,19.86 145.10,20.61 145.11,20.50 C145.19,19.94 145.35,18.83 145.47,18.00 C145.55,17.50 145.64,16.33 145.70,16.50 C145.82,16.83 146.00,18.49 146.03,19.50 C146.17,26.33 146.15,33.17 146.21,40.00 C146.32,53.33 146.44,66.67 146.56,80.00 C146.68,93.33 146.79,106.67 146.91,120.00 C147.03,133.33 147.15,146.67 147.26,160.00 C147.38,173.33 147.50,186.67 147.61,200.00 C147.70,210.00 147.81,220.00 147.88,230.00 C147.91,234.33 147.82,238.67 147.90,243.00 C147.96,246.67 148.09,250.34 148.30,254.00 C148.46,256.84 148.67,259.68 149.00,262.50 C149.24,264.51 149.58,266.52 150.00,268.50 C150.34,270.12 150.77,271.73 151.30,273.30 C151.77,274.70 152.31,276.10 153.00,277.40 C153.64,278.60 154.40,279.78 155.30,280.80 C156.23,281.85 157.34,282.80 158.50,283.60 C159.74,284.46 161.11,285.19 162.50,285.80 C164.01,286.46 165.60,286.97 167.20,287.40 C169.10,287.91 171.05,288.27 173.00,288.60 C175.15,288.97 177.32,289.28 179.50,289.50 C183.32,289.88 187.16,290.19 191.00,290.40 C197.33,290.75 203.66,290.99 210.00,291.20 C216.66,291.42 223.33,291.55 230.00,291.70 C237.80,291.88 245.60,292.04 253.40,292.20 C262.27,292.38 271.13,292.57 280.00,292.70 C289.67,292.84 299.56,293.38 309.00,293.00 C309.63,292.98 310.03,292.10 310.20,291.50 C310.77,289.44 311.02,287.18 311.20,285.00 C311.62,280.02 311.80,275.00 312.00,270.00 C312.27,263.34 312.42,256.67 312.60,250.00 C312.82,241.67 313.03,233.33 313.20,225.00 C313.43,213.33 313.60,201.67 313.80,190.00 C314.03,176.67 314.23,163.33 314.50,150.00 C314.73,138.33 315.01,126.67 315.30,115.00 C315.55,105.00 315.80,95.00 316.10,85.00 C316.33,77.33 316.59,69.66 316.90,62.00 C317.09,57.33 317.30,52.66 317.60,48.00 C317.73,46.03 317.96,42.28 318.20,42.10 C318.40,41.95 318.75,45.36 318.90,47.00 C319.29,51.32 319.54,55.66 319.80,60.00 C320.20,66.66 320.55,73.33 320.90,80.00 C321.25,86.67 321.59,93.33 321.90,100.00 C322.29,108.33 322.62,116.67 323.00,125.00 C323.38,133.33 323.78,141.67 324.20,150.00 C324.78,161.67 325.28,173.34 326.00,185.00 C326.41,191.67 327.01,198.34 327.60,205.00 C328.04,210.01 328.46,215.02 329.10,220.00 C329.66,224.35 330.43,228.68 331.20,233.00 C331.90,236.95 332.63,240.89 333.50,244.80 C334.00,247.06 334.64,249.28 335.30,251.50 C335.87,253.42 336.56,255.30 337.20,257.20 C337.79,258.97 338.35,260.75 339.00,262.50 C339.58,264.05 340.11,265.65 340.90,267.10 C341.61,268.42 342.53,269.65 343.50,270.80 C344.60,272.11 345.87,273.30 347.10,274.50 C348.20,275.57 349.40,276.53 350.50,277.60 C351.47,278.53 352.33,279.58 353.30,280.50 C354.33,281.48 355.35,282.49 356.50,283.30 C357.48,283.99 358.57,284.60 359.70,285.00 C361.40,285.60 363.20,286.04 365.00,286.30 C369.77,287.00 374.59,287.43 379.40,287.90 C386.26,288.57 393.12,289.25 400.00,289.70 C406.26,290.11 412.53,290.26 418.80,290.50 C425.87,290.76 432.93,291.01 440.00,291.20 C447.83,291.41 455.68,291.64 463.50,291.70 C463.78,291.70 464.12,291.60 464.30,291.40 C464.63,291.03 464.96,290.51 465.01,290.00 C465.23,288.05 465.08,286.00 465.11,284.00 C465.14,282.00 465.17,280.00 465.20,278.00 C465.23,276.00 465.26,274.00 465.30,272.00 C465.33,270.00 465.36,268.00 465.39,266.00 C465.42,264.00 465.46,262.00 465.49,260.00 C465.52,258.00 465.55,256.00 465.58,254.00 C465.62,252.00 465.65,250.00 465.68,248.00 C465.71,246.00 465.75,244.00 465.78,242.00 C465.81,240.00 465.85,238.00 465.88,236.00 C465.91,234.00 465.95,232.00 465.98,230.00 C466.01,228.00 466.05,226.00 466.08,224.00 C466.12,222.00 466.15,220.00 466.18,218.00 C466.22,216.00 466.25,214.00 466.29,212.00 C466.32,210.00 466.36,208.00 466.40,206.00 C466.43,204.00 466.47,202.00 466.50,200.00 C466.54,198.00 466.58,196.00 466.62,194.00 C466.65,192.00 466.69,190.00 466.73,188.00 C466.77,186.00 466.81,184.00 466.85,182.00 C466.88,180.00 466.92,178.00 466.97,176.00 C467.01,174.00 467.05,172.00 467.09,170.00 C467.13,168.00 467.17,166.00 467.22,164.00 C467.26,162.00 467.30,160.00 467.35,158.00 C467.39,156.00 467.44,154.00 467.48,152.00 C467.53,150.00 467.58,148.00 467.63,146.00 C467.67,144.00 467.72,142.00 467.77,140.00 C467.82,138.00 467.88,136.00 467.93,134.00 C467.98,132.00 468.04,130.00 468.09,128.00 C468.15,126.00 468.21,124.00 468.27,122.00 C468.32,120.00 468.38,118.00 468.45,116.00 C468.51,114.00 468.57,112.00 468.64,110.00 C468.71,108.00 468.78,106.00 468.85,104.00 C468.92,102.00 468.99,100.00 469.07,98.00 C469.14,96.00 469.22,94.00 469.30,92.00 C469.38,90.00 469.47,88.00 469.55,86.00 C469.64,84.00 469.73,82.00 469.82,80.00 C469.92,78.00 470.02,76.00 470.12,74.00 C470.22,72.00 470.33,70.00 470.44,68.00 C470.55,66.00 470.66,64.00 470.78,62.00 C470.90,60.00 471.03,58.00 471.16,56.00 C471.29,54.00 471.43,52.00 471.57,50.00 C471.71,48.00 471.86,46.00 472.02,44.00 C472.17,42.00 472.34,40.00 472.51,38.00 C472.68,36.00 472.87,34.00 473.05,32.00 C473.07,31.80 473.09,31.60 473.11,31.40 C473.19,30.57 473.27,29.73 473.35,28.90 C473.40,28.40 473.45,27.23 473.50,27.40 C473.61,27.73 473.80,29.40 473.82,30.40 C473.96,36.93 473.92,43.47 473.97,50.00 C474.07,63.33 474.17,76.67 474.27,90.00 C474.37,103.33 474.47,116.67 474.57,130.00 C474.67,143.33 474.77,156.67 474.87,170.00 C474.97,183.33 475.07,196.67 475.17,210.00 C475.23,218.33 475.19,226.67 475.36,235.00 C475.43,238.67 475.73,242.33 475.90,246.00 C476.08,250.00 476.20,254.00 476.40,258.00 C476.60,262.00 476.73,266.02 477.10,270.00 C477.26,271.78 477.50,273.60 478.00,275.30 C478.36,276.53 479.02,277.70 479.70,278.80 C480.46,280.03 481.32,281.24 482.30,282.30 C483.02,283.08 483.91,283.71 484.80,284.30 C485.68,284.88 486.63,285.39 487.60,285.80 C489.03,286.39 490.52,286.86 492.00,287.30 C493.45,287.73 494.92,288.12 496.40,288.40 C499.28,288.95 502.20,289.35 505.10,289.80 C507.80,290.22 510.50,290.60 513.20,291.00" stroke="#552a98" stroke-width="1.35"/>
</g>
<g stroke="#0a0a0a" stroke-width="1.3" fill="none">
<line x1="80.3" y1="1.8" x2="80.3" y2="301.5"/>
<line x1="76" y1="297.3" x2="513.7" y2="297.3"/>
<line x1="76" y1="223.06" x2="84.6" y2="223.06"/>
<line x1="76" y1="148.83" x2="84.6" y2="148.83"/>
<line x1="76" y1="74.60" x2="84.6" y2="74.60"/>
<line x1="166.70" y1="293.2" x2="166.70" y2="301.5"/>
<line x1="253.30" y1="293.2" x2="253.30" y2="301.5"/>
<line x1="339.90" y1="293.2" x2="339.90" y2="301.5"/>
<line x1="426.50" y1="293.2" x2="426.50" y2="301.5"/>
</g>
<g font-family='"Liberation Sans", sans-serif' font-size="13.5" fill="#111">
<text x="64.6" y="301.20" text-anchor="end">0</text>
<text x="64.6" y="226.97" text-anchor="end">500</text>
<text x="64.6" y="152.73" text-anchor="end">1000</text>
<text x="64.6" y="78.50" text-anchor="end">1500</text>
<text x="78.60" y="319.3" text-anchor="middle">0</text>
<text x="165.20" y="319.3" text-anchor="middle">100</text>
<text x="251.80" y="319.3" text-anchor="middle">200</text>
<text x="338.40" y="319.3" text-anchor="middle">300</text>
<text x="425.00" y="319.3" text-anchor="middle">400</text>
<text x="283.8" y="342.3" text-anchor="middle">Time (sec)</text>
<text transform="translate(19.0,157.5) rotate(-90)" text-anchor="middle" font-size="14.45">SO<tspan font-size="10" dy="3">2</tspan><tspan dy="-3"> peak intensity (mV, m/z 64)</tspan></text>
</g>
<rect x="492.4" y="36.7" width="135.2" height="114" fill="#fff" stroke="#0a0a0a" stroke-width="1.3"/>
<line x1="503.6" y1="46.4" x2="529.1" y2="46.4" stroke="#111" stroke-width="1.3" stroke-dasharray="2.2,1.6"/>
<text x="535.1" y="49.9" font-family='"Liberation Sans", sans-serif' font-size="13.8" fill="#111">Blank capsule</text>
<line x1="503.6" y1="65.4" x2="529.1" y2="65.4" stroke="#ff77d6" stroke-width="1.3"/>
<text x="591.3" y="69.8" text-anchor="end" font-family='"Liberation Sans", sans-serif' font-size="13.8" fill="#111">2.5 nmol</text>
<line x1="503.6" y1="84.4" x2="529.1" y2="84.4" stroke="#c0282d" stroke-width="1.3"/>
<text x="591.3" y="88.8" text-anchor="end" font-family='"Liberation Sans", sans-serif' font-size="13.8" fill="#111">5 nmol</text>
<line x1="503.6" y1="103.4" x2="529.1" y2="103.4" stroke="#2e8b2e" stroke-width="1.3"/>
<text x="591.3" y="107.8" text-anchor="end" font-family='"Liberation Sans", sans-serif' font-size="13.8" fill="#111">10 nmol</text>
<line x1="503.6" y1="122.4" x2="529.1" y2="122.4" stroke="#2e9ad4" stroke-width="1.3"/>
<text x="591.3" y="126.8" text-anchor="end" font-family='"Liberation Sans", sans-serif' font-size="13.8" fill="#111">15 nmol</text>
<line x1="503.6" y1="141.4" x2="529.1" y2="141.4" stroke="#55308f" stroke-width="1.3"/>
<text x="591.3" y="145.8" text-anchor="end" font-family='"Liberation Sans", sans-serif' font-size="13.8" fill="#111">40 nmol</text>
<text x="1.9" y="381" font-family='"Liberation Serif", serif' font-weight="bold" font-size="32.5">b</text>
<clipPath id="cb"><rect x="63.1" y="368.8" width="234.3" height="218.4"/></clipPath>
<line x1="63.1" y1="587.2" x2="297.4" y2="364.98" stroke="#111" stroke-width="1.2" stroke-dasharray="9.2,3.95" stroke-dashoffset="-1.5" clip-path="url(#cb)"/>
<g>
<line x1="80.38" y1="554.02" x2="80.38" y2="576.02" stroke="#444" stroke-width="1.2"/>
<line x1="77.88" y1="565.02" x2="82.88" y2="565.02" stroke="#444" stroke-width="1.1"/>
<circle cx="80.38" cy="565.02" r="4.9" fill="none" stroke="#111" stroke-width="1.25"/>
<line x1="89.42" y1="541.76" x2="89.42" y2="563.76" stroke="#444" stroke-width="1.2"/>
<line x1="86.92" y1="552.76" x2="91.92" y2="552.76" stroke="#444" stroke-width="1.1"/>
<circle cx="89.42" cy="552.76" r="4.9" fill="none" stroke="#111" stroke-width="1.25"/>
<line x1="89.42" y1="534.03" x2="89.42" y2="556.03" stroke="#444" stroke-width="1.2"/>
<line x1="86.92" y1="545.03" x2="91.92" y2="545.03" stroke="#444" stroke-width="1.1"/>
<circle cx="89.42" cy="545.03" r="4.9" fill="none" stroke="#111" stroke-width="1.25"/>
<line x1="98.46" y1="535.04" x2="98.46" y2="557.04" stroke="#444" stroke-width="1.2"/>
<line x1="95.96" y1="546.04" x2="100.96" y2="546.04" stroke="#444" stroke-width="1.1"/>
<circle cx="98.46" cy="546.04" r="4.9" fill="none" stroke="#111" stroke-width="1.25"/>
<line x1="98.46" y1="536.55" x2="98.46" y2="558.55" stroke="#444" stroke-width="1.2"/>
<line x1="95.96" y1="547.55" x2="100.96" y2="547.55" stroke="#444" stroke-width="1.1"/>
<circle cx="98.46" cy="547.55" r="4.9" fill="none" stroke="#111" stroke-width="1.25"/>
<line x1="107.50" y1="532.35" x2="107.50" y2="554.35" stroke="#444" stroke-width="1.2"/>
<line x1="105.00" y1="543.35" x2="110.00" y2="543.35" stroke="#444" stroke-width="1.1"/>
<circle cx="107.50" cy="543.35" r="4.9" fill="none" stroke="#111" stroke-width="1.25"/>
<line x1="107.50" y1="538.74" x2="107.50" y2="560.74" stroke="#444" stroke-width="1.2"/>
<line x1="105.00" y1="549.74" x2="110.00" y2="549.74" stroke="#444" stroke-width="1.1"/>
<circle cx="107.50" cy="549.74" r="4.9" fill="none" stroke="#111" stroke-width="1.25"/>
<line x1="116.54" y1="522.10" x2="116.54" y2="544.10" stroke="#444" stroke-width="1.2"/>
<line x1="114.04" y1="533.10" x2="119.04" y2="533.10" stroke="#444" stroke-width="1.1"/>
<circle cx="116.54" cy="533.10" r="4.9" fill="none" stroke="#111" stroke-width="1.25"/>
<line x1="116.54" y1="512.86" x2="116.54" y2="534.86" stroke="#444" stroke-width="1.2"/>
<line x1="114.04" y1="523.86" x2="119.04" y2="523.86" stroke="#444" stroke-width="1.1"/>
<circle cx="116.54" cy="523.86" r="4.9" fill="none" stroke="#111" stroke-width="1.25"/>
<line x1="152.70" y1="484.14" x2="152.70" y2="506.14" stroke="#444" stroke-width="1.2"/>
<line x1="150.20" y1="495.14" x2="155.20" y2="495.14" stroke="#444" stroke-width="1.1"/>
<circle cx="152.70" cy="495.14" r="4.9" fill="none" stroke="#111" stroke-width="1.25"/>
<line x1="170.78" y1="437.60" x2="170.78" y2="459.60" stroke="#444" stroke-width="1.2"/>
<line x1="168.28" y1="448.60" x2="173.28" y2="448.60" stroke="#444" stroke-width="1.1"/>
<circle cx="170.78" cy="448.60" r="4.9" fill="none" stroke="#111" stroke-width="1.25"/>
<line x1="170.78" y1="466.66" x2="170.78" y2="488.66" stroke="#444" stroke-width="1.2"/>
<line x1="168.28" y1="477.66" x2="173.28" y2="477.66" stroke="#444" stroke-width="1.1"/>
<circle cx="170.78" cy="477.66" r="4.9" fill="none" stroke="#111" stroke-width="1.25"/>
<line x1="170.78" y1="469.18" x2="170.78" y2="491.18" stroke="#444" stroke-width="1.2"/>
<line x1="168.28" y1="480.18" x2="173.28" y2="480.18" stroke="#444" stroke-width="1.1"/>
<circle cx="170.78" cy="480.18" r="4.9" fill="none" stroke="#111" stroke-width="1.25"/>
<line x1="197.90" y1="447.34" x2="197.90" y2="469.34" stroke="#444" stroke-width="1.2"/>
<line x1="195.40" y1="458.34" x2="200.40" y2="458.34" stroke="#444" stroke-width="1.1"/>
<circle cx="197.90" cy="458.34" r="4.9" fill="none" stroke="#111" stroke-width="1.25"/>
<line x1="225.02" y1="433.74" x2="225.02" y2="455.74" stroke="#444" stroke-width="1.2"/>
<line x1="222.52" y1="444.74" x2="227.52" y2="444.74" stroke="#444" stroke-width="1.1"/>
<circle cx="225.02" cy="444.74" r="4.9" fill="none" stroke="#111" stroke-width="1.25"/>
<line x1="225.02" y1="436.93" x2="225.02" y2="458.93" stroke="#444" stroke-width="1.2"/>
<line x1="222.52" y1="447.93" x2="227.52" y2="447.93" stroke="#444" stroke-width="1.1"/>
<circle cx="225.02" cy="447.93" r="4.9" fill="none" stroke="#111" stroke-width="1.25"/>
<line x1="225.02" y1="450.03" x2="225.02" y2="472.03" stroke="#444" stroke-width="1.2"/>
<line x1="222.52" y1="461.03" x2="227.52" y2="461.03" stroke="#444" stroke-width="1.1"/>
<circle cx="225.02" cy="461.03" r="4.9" fill="none" stroke="#111" stroke-width="1.25"/>
<line x1="243.10" y1="399.13" x2="243.10" y2="421.13" stroke="#444" stroke-width="1.2"/>
<line x1="240.60" y1="410.13" x2="245.60" y2="410.13" stroke="#444" stroke-width="1.1"/>
<circle cx="243.10" cy="410.13" r="4.9" fill="none" stroke="#111" stroke-width="1.25"/>
<line x1="279.26" y1="370.57" x2="279.26" y2="392.57" stroke="#444" stroke-width="1.2"/>
<line x1="276.76" y1="381.57" x2="281.76" y2="381.57" stroke="#444" stroke-width="1.1"/>
<circle cx="279.26" cy="381.57" r="4.9" fill="none" stroke="#111" stroke-width="1.25"/>
</g>
<rect x="63.1" y="368.8" width="234.3" height="218.4" fill="none" stroke="#0a0a0a" stroke-width="1.3"/>
<g stroke="#0a0a0a" stroke-width="1.3">
<line x1="59" y1="587.20" x2="67.2" y2="587.20"/>
<line x1="63.10" y1="583.2" x2="63.10" y2="591.3"/>
<line x1="59" y1="503.20" x2="67.2" y2="503.20"/>
<line x1="153.20" y1="583.2" x2="153.20" y2="591.3"/>
<line x1="59" y1="419.20" x2="67.2" y2="419.20"/>
<line x1="243.30" y1="583.2" x2="243.30" y2="591.3"/>
</g>
<g font-family='"Liberation Sans", sans-serif' font-size="14.4" fill="#111">
<text x="46.0" y="591.80" text-anchor="end">0</text>
<text x="60.90" y="609.2" text-anchor="middle">0</text>
<text x="46.0" y="507.80" text-anchor="end">50</text>
<text x="151.00" y="609.2" text-anchor="middle">50</text>
<text x="46.0" y="423.80" text-anchor="end">100</text>
<text x="241.10" y="609.2" text-anchor="middle">100</text>
<text x="191.7" y="641.9" text-anchor="middle" font-size="14.6">Subjected S (nmol)</text>
<text transform="translate(21.3,486.6) rotate(-90)" text-anchor="middle" font-size="14.6">Obtained S (nmol)</text>
<text x="154.2" y="391.2" font-size="14.6">y = 1.0173x</text>
<text x="154.2" y="408" font-size="14.6">R² = 0.9849</text>
</g>
<text x="321" y="381" font-family='"Liberation Serif", serif' font-weight="bold" font-size="32.5">c</text>
<line x1="377.6" y1="423.9" x2="627.5" y2="423.9" stroke="#a84473" stroke-width="1.5" stroke-dasharray="4.2,3.13"/>
<line x1="377.6" y1="540.1" x2="627.5" y2="540.1" stroke="#4a7ab8" stroke-width="1.4" stroke-dasharray="4.2,3.13"/>
<rect x="408.00" y="430.60" width="9.2" height="9.2" fill="#98154f"/>
<line x1="423.0" y1="401.9" x2="423.0" y2="447.5" stroke="#98154f" stroke-width="1.4"/>
<rect x="418.40" y="420.20" width="9.2" height="9.2" fill="#98154f"/>
<line x1="453.4" y1="421.2" x2="453.4" y2="440.4" stroke="#98154f" stroke-width="1.4"/>
<line x1="449" y1="431.2" x2="458" y2="431.2" stroke="#98154f" stroke-width="1.4"/>
<rect x="448.80" y="426.60" width="9.2" height="9.2" fill="#98154f"/>
<line x1="463.6" y1="403.3" x2="463.6" y2="435.7" stroke="#98154f" stroke-width="1.4"/>
<rect x="459.00" y="415.40" width="9.2" height="9.2" fill="#98154f"/>
<line x1="473.6" y1="399.3" x2="473.6" y2="452.7" stroke="#98154f" stroke-width="1.4"/>
<rect x="469.00" y="420.90" width="9.2" height="9.2" fill="#98154f"/>
<line x1="541.5" y1="394.1" x2="541.5" y2="448.7" stroke="#98154f" stroke-width="1.4"/>
<line x1="533.1" y1="420.7" x2="550.1" y2="420.7" stroke="#98154f" stroke-width="1.4"/>
<rect x="536.90" y="416.10" width="9.2" height="9.2" fill="#98154f"/>
<rect x="565.00" y="430.00" width="9.2" height="9.2" fill="#98154f"/>
<line x1="393.7" y1="522.9" x2="393.7" y2="548.6" stroke="#3a6fae" stroke-width="1.4"/>
<line x1="388.8" y1="536.4" x2="399.3" y2="536.4" stroke="#3a6fae" stroke-width="1.4"/>
<circle cx="393.7" cy="536.4" r="4.2" fill="#2660a0"/>
<line x1="413.8" y1="530.4" x2="413.8" y2="557.0" stroke="#3a6fae" stroke-width="1.4"/>
<circle cx="413.8" cy="544.4" r="4.2" fill="#2660a0"/>
<line x1="435.7" y1="538.7" x2="435.7" y2="562.0" stroke="#3a6fae" stroke-width="1.4"/>
<circle cx="435.7" cy="550.9" r="4.2" fill="#2660a0"/>
<line x1="450.1" y1="532.5" x2="450.1" y2="552.1" stroke="#3a6fae" stroke-width="1.4"/>
<line x1="444" y1="542.2" x2="455.7" y2="542.2" stroke="#3a6fae" stroke-width="1.4"/>
<circle cx="450.1" cy="542.2" r="4.2" fill="#2660a0"/>
<line x1="488.6" y1="531.1" x2="488.6" y2="556.7" stroke="#3a6fae" stroke-width="1.4"/>
<line x1="478.1" y1="543.9" x2="499.1" y2="543.9" stroke="#3a6fae" stroke-width="1.4"/>
<circle cx="488.6" cy="543.9" r="4.2" fill="#2660a0"/>
<line x1="544.2" y1="524.0" x2="544.2" y2="545.3" stroke="#3a6fae" stroke-width="1.4"/>
<line x1="529" y1="535.0" x2="559.1" y2="535.0" stroke="#3a6fae" stroke-width="1.4"/>
<circle cx="544.2" cy="535.0" r="4.2" fill="#2660a0"/>
<line x1="595.8" y1="528.6" x2="595.8" y2="549.6" stroke="#3a6fae" stroke-width="1.4"/>
<line x1="572.8" y1="539.3" x2="618.6" y2="539.3" stroke="#3a6fae" stroke-width="1.4"/>
<circle cx="595.8" cy="539.3" r="4.2" fill="#2660a0"/>
<g stroke="#0a0a0a" stroke-width="1.25" fill="none">
<polyline points="377.4,490 377.4,368.3 632.3,368.3"/>
<line x1="627.6" y1="368.3" x2="627.6" y2="488"/>
<polyline points="377.4,497 377.4,585.65 628.1,585.65 628.1,500.5"/>
<line x1="623.4" y1="404.60" x2="631.9" y2="404.60"/>
<line x1="623.4" y1="440.90" x2="631.9" y2="440.90"/>
<line x1="623.4" y1="477.20" x2="631.9" y2="477.20"/>
<line x1="373.4" y1="512.40" x2="382.1" y2="512.40"/>
<line x1="373.4" y1="549.06" x2="382.1" y2="549.06"/>
<line x1="373.4" y1="585.65" x2="377.4" y2="585.65"/>
<line x1="377.4" y1="586.5" x2="607.3" y2="586.5" stroke-width="1.0" stroke="#333"/>
<line x1="377.40" y1="580.3" x2="377.40" y2="589.9"/>
<line x1="473.85" y1="580.3" x2="473.85" y2="589.9"/>
<line x1="570.30" y1="580.3" x2="570.30" y2="589.9"/>
</g>
<path d="M370.40,492.80 C373.32,489.20 376.07,490.20 378.50,491.80 S384.17,494.00 386.60,490.60" fill="none" stroke="#0a0a0a" stroke-width="1.3"/>
<path d="M371.20,497.80 C374.08,494.20 376.80,495.20 379.20,496.80 S384.80,499.00 387.20,495.60" fill="none" stroke="#0a0a0a" stroke-width="1.3"/>
<path d="M621.20,492.90 C623.99,489.30 626.62,490.30 628.95,491.90 S634.38,494.10 636.70,490.70" fill="none" stroke="#0a0a0a" stroke-width="1.3"/>
<path d="M621.60,497.60 C624.41,494.00 627.06,495.00 629.40,496.60 S634.86,498.80 637.20,495.40" fill="none" stroke="#0a0a0a" stroke-width="1.3"/>
<g font-family='"Liberation Sans", sans-serif' font-size="14.2" fill="#111">
<text x="639.7" y="372.90">24</text>
<text x="639.7" y="409.20">22</text>
<text x="639.7" y="445.50">20</text>
<text x="639.7" y="481.80">18</text>
<text x="362.4" y="517.00" text-anchor="end">-<tspan dx="0.9">4</tspan></text>
<text x="362.4" y="553.66" text-anchor="end">-<tspan dx="0.9">6</tspan></text>
<text x="362.4" y="590.32" text-anchor="end">-<tspan dx="0.9">8</tspan></text>
<text x="375.70" y="608.6" text-anchor="middle">0</text>
<text x="472.15" y="608.6" text-anchor="middle">50</text>
<text x="568.60" y="608.6" text-anchor="middle">100</text>
<text x="502.6" y="636.8" text-anchor="middle" font-size="14.6">Subjected S (nmol)</text>
<text transform="translate(681.6,425.5) rotate(-90)" text-anchor="middle" font-size="15.6">δ<tspan font-size="9.6" dy="-5.3">34</tspan><tspan dy="5.3">S (‰ vs VCDT)</tspan></text>
<text transform="translate(329.6,537) rotate(-90)" text-anchor="middle" font-size="15.6">δ<tspan font-size="9.6" dy="-5.3">34</tspan><tspan dy="5.3">S (‰ vs VCDT)</tspan></text>
</g>
<text x="516" y="389.8" font-family='"Liberation Sans", sans-serif' font-size="16.25" fill="#98154f" style="stroke:#98154f">NRC-NASS-7</text>
<text x="393" y="517.5" font-family='"Liberation Sans", sans-serif' font-size="16.3" fill="#1f3f78" style="stroke:#1f3f78">BG-IC-SO<tspan font-size="11" dy="3.6">4</tspan></text>
</svg>
</body></html>
